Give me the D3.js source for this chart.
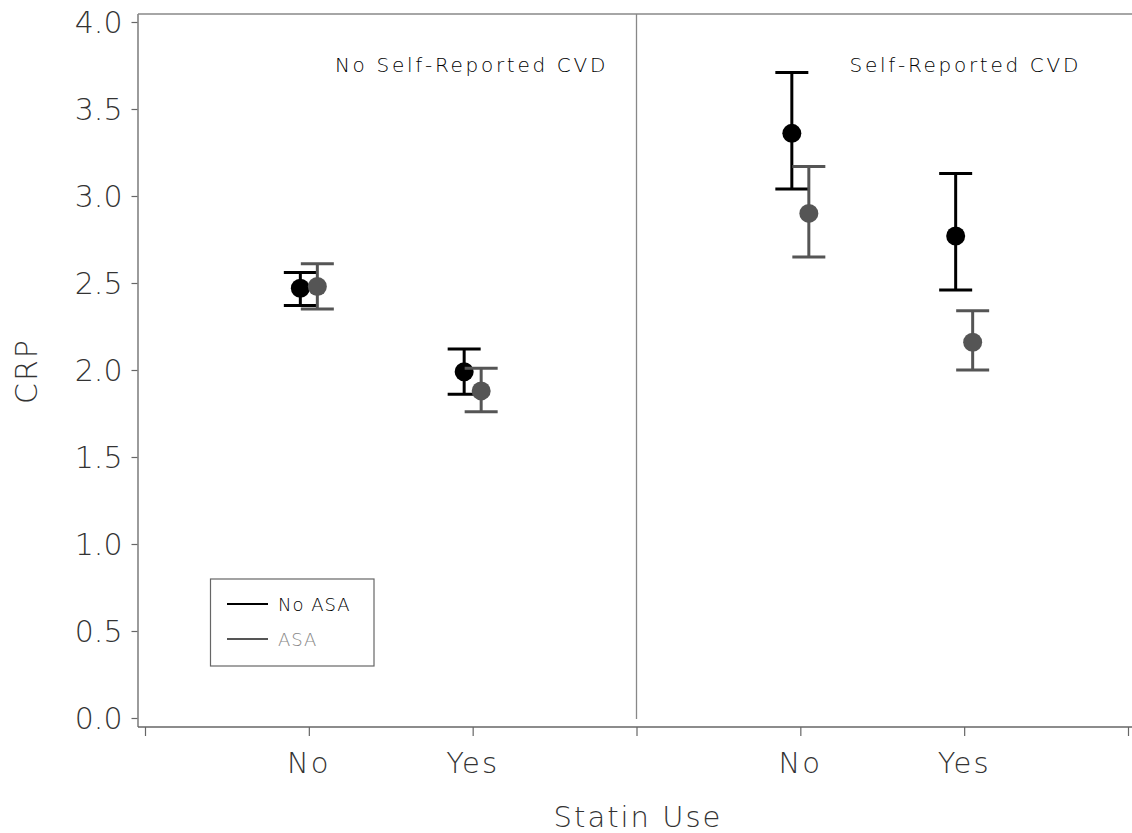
<!DOCTYPE html>
<html>
<head>
<meta charset="utf-8">
<script src="https://cdn.jsdelivr.net/npm/d3@7/dist/d3.min.js"></script>
<style>
  html, body { margin: 0; padding: 0; background: #fff; }
  svg { display: block; }
  text { font-family: "DejaVu Sans", sans-serif; font-weight: 200; }
</style>
</head>
<body>
<svg id="chart" width="1132" height="833"></svg>
<script>
// ---- data ----
const panels = ["No Self-Reported CVD", "Self-Reported CVD"];
const statinLevels = ["No", "Yes"];
const seriesNames = ["No ASA", "ASA"];
// mean CRP by [panel][statin]
const meanNoASA = [[2.47, 1.99], [3.36, 2.77]];
const lowNoASA  = [[2.37, 1.86], [3.04, 2.46]];
const highNoASA = [[2.56, 2.12], [3.71, 3.13]];
const meanASA   = [[2.48, 1.88], [2.90, 2.16]];
const lowASA    = [[2.35, 1.76], [2.65, 2.00]];
const highASA   = [[2.61, 2.01], [3.17, 2.34]];
const yTicks = [0.0, 0.5, 1.0, 1.5, 2.0, 2.5, 3.0, 3.5, 4.0];
const xTickPos = [0, 1, 2, 3, 4, 5, 6];

// ---- layout ----
const svg = d3.select("#chart");
const frameL = 138, frameT = 14, frameR = 1132, axisY = 727;
const x = d3.scaleLinear().domain([0, 6]).range([145, 1128]);
const y = d3.scaleLinear().domain([0, 4]).range([718, 22]);
const colors = ["#000000", "#555555"];
const offsets = [-8.5, 8.5];
const axisColor = "#666";

// frame
svg.append("line").attr("x1", frameL).attr("x2", frameL).attr("y1", frameT).attr("y2", axisY)
  .attr("stroke", axisColor).attr("stroke-width", 1.3);
svg.append("line").attr("x1", frameL).attr("x2", frameR).attr("y1", frameT).attr("y2", frameT)
  .attr("stroke", "#888").attr("stroke-width", 1.3);

// y axis
const yAxis = d3.axisLeft(y).tickValues(yTicks).tickFormat(d3.format(".1f"))
  .tickSize(6).tickPadding(9);
const gy = svg.append("g").attr("transform", `translate(${frameL - 0.5},0)`).call(yAxis);
gy.select(".domain").remove();
gy.selectAll(".tick line").attr("stroke", axisColor).attr("stroke-width", 1.2);
gy.selectAll(".tick text").attr("font-size", 30).attr("fill", "#333")
  .attr("font-family", "DejaVu Sans, sans-serif").attr("font-weight", 200)
  .attr("dy", "0.36em");

// x axis
const xAxis = d3.axisBottom(x).tickValues(xTickPos).tickFormat("").tickSize(9);
const gx = svg.append("g").attr("transform", `translate(0,${axisY})`).call(xAxis);
gx.select(".domain").remove();
gx.selectAll(".tick line").attr("stroke", axisColor).attr("stroke-width", 1.2);
svg.append("line").attr("x1", frameL).attr("x2", frameR).attr("y1", axisY).attr("y2", axisY)
  .attr("stroke", axisColor).attr("stroke-width", 1.5);

// x tick labels
panels.forEach((p, pi) => {
  statinLevels.forEach((s, si) => {
    svg.append("text").attr("x", x(pi * 3 + si + 1)).attr("y", 773)
      .attr("text-anchor", "middle").attr("font-size", 29).attr("fill", "#333")
      .attr("letter-spacing", 2).text(s);
  });
});

// divider
svg.append("line").attr("x1", x(3)).attr("x2", x(3)).attr("y1", frameT).attr("y2", 719)
  .attr("stroke", "#888").attr("stroke-width", 1.3);

// panel titles
svg.append("text").attr("x", 608).attr("y", 72).attr("text-anchor", "end")
  .attr("font-size", 20).attr("letter-spacing", 2.7).attr("fill", "#000").text(panels[0]);
svg.append("text").attr("x", 1081).attr("y", 72).attr("text-anchor", "end")
  .attr("font-size", 20).attr("letter-spacing", 2.7).attr("fill", "#000").text(panels[1]);

// axis titles
svg.append("text").attr("x", 638).attr("y", 827).attr("text-anchor", "middle")
  .attr("font-size", 29).attr("letter-spacing", 2).attr("fill", "#333").text("Statin Use");
svg.append("text").attr("transform", "translate(37,371) rotate(-90)")
  .attr("text-anchor", "middle").attr("font-size", 30).attr("letter-spacing", 2)
  .attr("fill", "#333").text("CRP");

// error bars + points
const series = [
  { mean: meanNoASA, low: lowNoASA, high: highNoASA },
  { mean: meanASA, low: lowASA, high: highASA }
];
const capHalf = 16.5;
series.forEach((ser, k) => {
  const g = svg.append("g");
  panels.forEach((p, pi) => {
    statinLevels.forEach((s, si) => {
      const cx = x(pi * 3 + si + 1) + offsets[k];
      const lo = ser.low[pi][si], hi = ser.high[pi][si], m = ser.mean[pi][si];
      g.append("line").attr("x1", cx).attr("x2", cx).attr("y1", y(lo)).attr("y2", y(hi))
        .attr("stroke", colors[k]).attr("stroke-width", 3);
      [lo, hi].forEach(v => {
        g.append("line").attr("x1", cx - capHalf).attr("x2", cx + capHalf)
          .attr("y1", y(v)).attr("y2", y(v))
          .attr("stroke", colors[k]).attr("stroke-width", 3);
      });
      g.append("circle").attr("cx", cx).attr("cy", y(m)).attr("r", 9.5).attr("fill", colors[k]);
    });
  });
});

// legend
svg.append("rect").attr("x", 210.5).attr("y", 579).attr("width", 163.5).attr("height", 87)
  .attr("fill", "none").attr("stroke", "#666").attr("stroke-width", 1.2);
const legendText = ["#000", "#888"];
seriesNames.forEach((n, i) => {
  const ly = 604 + i * 35;
  svg.append("line").attr("x1", 227).attr("x2", 268).attr("y1", ly).attr("y2", ly)
    .attr("stroke", colors[i]).attr("stroke-width", 2);
  svg.append("text").attr("x", 278).attr("y", ly + 7).attr("font-size", 18)
    .attr("letter-spacing", 1).attr("font-weight", i === 0 ? 400 : 200)
    .attr("fill", legendText[i]).text(n);
});
</script>
</body>
</html>
